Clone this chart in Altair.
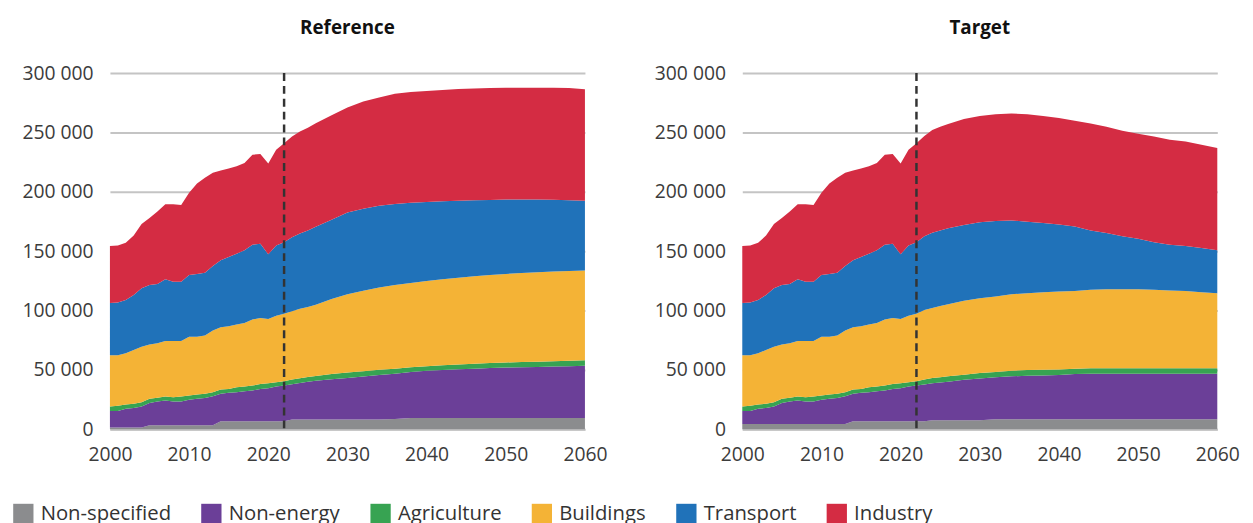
import altair as alt
import pandas as pd

# ---------------- data (thousands) ----------------
sectors = ["Non-specified", "Non-energy", "Agriculture", "Buildings", "Transport", "Industry"]
colors = ["#8b8c8e", "#6b3f98", "#37a352", "#f4b336", "#2072b9", "#d42c43"]
panel_titles = ["Reference", "Target"]
projection_start = 2022

hist_years = list(range(2000, 2023))
proj_years = [2023, 2024, 2025, 2026] + list(range(2028, 2061, 2))

# cumulative upper edge of each stacked layer (thousands), history 2000-2022
hist_nonenergy_top = [15.4, 15.4, 17.4, 17.9, 19.3, 22.1, 23.5, 24.3, 23.5, 23.5, 24.9, 25.7,
                      26.3, 27.9, 29.9, 30.7, 31.3, 32.1, 32.6, 34.0, 34.6, 36.0, 36.8]
hist_agri_top = [19.3, 19.9, 21.0, 21.5, 22.9, 25.7, 26.5, 27.6, 27.1, 27.6, 28.5, 29.3,
                 29.9, 31.3, 33.5, 34.0, 35.4, 36.0, 36.8, 38.2, 38.8, 39.6, 40.4]
hist_buildings_top = [62.4, 62.4, 64.0, 66.8, 69.6, 71.5, 72.4, 74.3, 74.3, 74.3, 77.9, 77.9,
                      79.0, 83.2, 86.0, 86.8, 88.2, 89.6, 92.4, 93.8, 92.9, 95.7, 97.4]
hist_transport_top = [106.3, 106.8, 109.0, 113.2, 118.8, 121.5, 122.4, 126.3, 124.3, 124.3, 129.9, 130.7,
                      131.8, 137.6, 142.4, 145.1, 147.9, 150.7, 155.4, 156.2, 147.4, 154.9, 157.6]
hist_total = [154.3, 154.9, 157.1, 163.2, 172.9, 177.9, 183.5, 189.6, 189.6, 189.0, 199.3, 207.1,
              211.8, 216.0, 217.9, 219.6, 221.5, 224.3, 231.3, 231.8, 223.8, 235.4, 241.0]
ref_hist_nonspec = [1.5] * 5 + [3.5] * 9 + [6.8] * 9
tgt_hist_nonspec = [4.5] * 14 + [6.8] * 9

# Reference projection
ref_nonspec = [8.2] * 8 + [8.8] + [9.6] * 12
ref_nonenergy_top = [38.0, 39.0, 40.0, 41.0, 42.2, 43.2, 44.5, 45.8, 46.8, 48.2, 49.3, 50.0,
                     50.5, 51.0, 51.6, 52.1, 52.3, 52.5, 52.8, 53.1, 53.5]
ref_agri_top = [42.0, 43.0, 44.0, 45.0, 46.5, 47.9, 48.9, 50.1, 51.0, 52.2, 53.2, 53.9,
                54.6, 55.2, 55.8, 56.3, 56.6, 56.9, 57.3, 57.7, 58.2]
ref_buildings_top = [99.5, 101.5, 103.0, 104.9, 109.8, 113.8, 116.7, 119.5, 121.5, 123.3, 124.9, 126.3,
                     127.6, 128.8, 129.9, 130.9, 131.6, 132.3, 132.9, 133.3, 133.7]
ref_transport_top = [161.8, 164.8, 167.5, 170.5, 176.5, 182.6, 185.7, 188.2, 189.8, 190.8, 191.5, 192.0,
                     192.4, 192.8, 193.2, 193.5, 193.5, 193.5, 193.4, 193.0, 192.4]
ref_total = [246.5, 250.7, 254.0, 257.8, 264.5, 271.0, 276.0, 279.5, 282.5, 284.0, 285.0, 285.8,
             286.5, 287.0, 287.4, 287.6, 287.6, 287.6, 287.6, 287.4, 286.3]

# Target projection
tgt_nonspec = [6.8] + [7.6] * 5 + [8.5] * 15
tgt_nonenergy_top = [37.8, 38.8, 39.5, 40.1, 41.8, 42.9, 43.8, 44.6, 45.1, 45.4, 45.7, 46.5,
                     46.8, 46.8, 46.8, 46.8, 46.8, 46.8, 46.8, 46.8, 46.8]
tgt_agri_top = [42.0, 43.2, 43.9, 44.6, 45.9, 47.4, 48.2, 49.3, 49.9, 50.1, 50.4, 51.0,
                51.5, 51.5, 51.5, 51.5, 51.5, 51.5, 51.5, 51.5, 51.5]
tgt_buildings_top = [100.5, 102.1, 103.8, 105.4, 108.2, 110.4, 111.8, 113.8, 114.6, 115.4, 116.0, 116.5,
                     117.6, 117.9, 117.9, 117.9, 117.6, 116.8, 116.5, 115.4, 114.6]
tgt_transport_top = [162.5, 165.5, 167.5, 169.3, 172.1, 174.3, 175.4, 175.9, 174.9, 173.7, 172.4, 170.7,
                     167.4, 165.4, 162.6, 160.4, 157.6, 155.4, 154.3, 152.6, 150.7]
tgt_total = [247.1, 252.1, 254.9, 257.1, 261.3, 263.8, 265.4, 266.0, 265.4, 263.8, 262.1, 259.9,
             257.6, 254.9, 251.5, 248.8, 246.5, 243.8, 242.4, 239.6, 236.8]

y_ticks = [0, 50000, 100000, 150000, 200000, 250000, 300000]
x_ticks = [2000, 2010, 2020, 2030, 2040, 2050, 2060]

FONT = "Open Sans"


def build_frame(edges):
    years = hist_years + proj_years
    rows = []
    for i, yr in enumerate(years):
        prev = 0.0
        for k, s in enumerate(sectors):
            top = edges[k][i] * 1000
            rows.append({"year": yr, "sector": s, "order": k, "value": top - prev})
            prev = top
    return pd.DataFrame(rows)


ref_edges = [ref_hist_nonspec + ref_nonspec,
             hist_nonenergy_top + ref_nonenergy_top,
             hist_agri_top + ref_agri_top,
             hist_buildings_top + ref_buildings_top,
             hist_transport_top + ref_transport_top,
             hist_total + ref_total]
tgt_edges = [tgt_hist_nonspec + tgt_nonspec,
             hist_nonenergy_top + tgt_nonenergy_top,
             hist_agri_top + tgt_agri_top,
             hist_buildings_top + tgt_buildings_top,
             hist_transport_top + tgt_transport_top,
             hist_total + tgt_total]


def panel(title, df):
    area = alt.Chart(df).mark_area(interpolate="linear").encode(
        x=alt.X("year:Q",
                scale=alt.Scale(domain=[2000, 2060], nice=False),
                axis=alt.Axis(values=x_ticks, format="d", title=None, grid=False,
                              labelFlush=False, domain=True, domainColor="#c4c4c4",
                              domainWidth=2, ticks=False, labelPadding=17)),
        y=alt.Y("value:Q", stack="zero",
                scale=alt.Scale(domain=[0, 300000], nice=False),
                axis=alt.Axis(values=y_ticks, title=None, grid=True, domain=False,
                              ticks=False, labelPadding=17,
                              labelExpr="replace(format(datum.value, ','), ',', ' ')")),
        color=alt.Color("sector:N",
                        scale=alt.Scale(domain=sectors, range=colors),
                        legend=alt.Legend(title=None, orient="none", direction="horizontal",
                                          legendX=-98, legendY=435,
                                          symbolType="square", symbolSize=420,
                                          symbolStrokeWidth=0, symbolOpacity=1,
                                          labelFontSize=20.5, labelFont=FONT,
                                          labelColor="#333333", labelOffset=7,
                                          columnPadding=30)),
        order=alt.Order("order:Q"),
    )
    rule = alt.Chart(pd.DataFrame({"year": [projection_start]})).mark_rule(
        strokeDash=[8, 5], strokeWidth=2.5, color="#333333"
    ).encode(x="year:Q", y=alt.value(0), y2=alt.value(360))
    return alt.layer(area, rule).properties(
        width=480, height=360,
        title=alt.TitleParams(title, fontSize=19, fontWeight="bold", font=FONT,
                              color="#111111", anchor="middle", frame="group", offset=25),
    )


chart = alt.hconcat(
    panel(panel_titles[0], build_frame(ref_edges)),
    panel(panel_titles[1], build_frame(tgt_edges)),
    spacing=47,
).resolve_scale(color="shared").resolve_legend(color="shared").properties(
    padding={"left": 5, "top": 9, "right": 5, "bottom": 5}
).configure_view(stroke=None).configure_axis(
    labelFont=FONT, labelFontSize=19.5, labelColor="#3c3c3c",
    gridColor="#c4c4c4", gridWidth=2,
)

chart.save("out.html", embed_options={"renderer": "svg", "actions": False})
